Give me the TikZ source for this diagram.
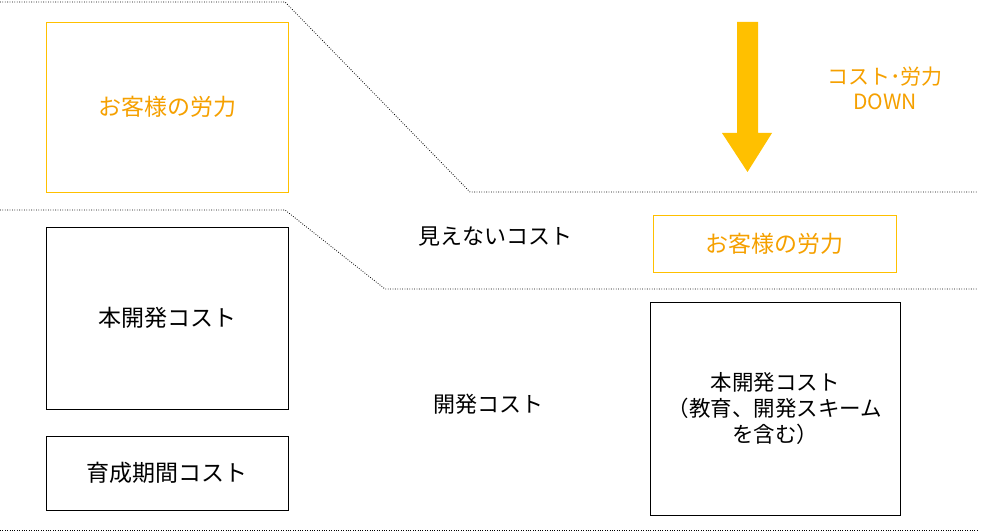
\documentclass[tikz,border=0pt]{standalone}
\usepackage{fontspec}
\setmainfont{Noto Sans CJK JP}
\usetikzlibrary{positioning}
\definecolor{gold}{HTML}{FFC000}
\definecolor{orangetext}{HTML}{F5A000}
\tikzset{
  costbox/.style={draw,thin,align=center,font=\fontsize{23}{27}\selectfont},
  careline/.style={line width=0.8pt,dash pattern=on 0.8pt off 1.6pt},
}
\begin{document}
\begin{tikzpicture}
  [x=1pt,y=-1pt,every node/.style={inner sep=0pt}]
  \useasboundingbox (0,0) rectangle (983,532);
  % dotted levels
  \draw[careline] (0,2) -- (285,2) -- (470,192) -- (978,192);
  \draw[careline] (0,210) -- (285,210) -- (385,289) -- (978,289);
  \draw[careline] (0,530) -- (978,530);
  % before
  \node[costbox,draw=gold,text=orangetext,minimum width=242pt,minimum height=170pt] (care1) at (167,107) {お客様の労力};
  \node[costbox,minimum width=242pt,minimum height=182pt] (dev1) at (167,318) {本開発コスト};
  \node[costbox,minimum width=242pt,minimum height=74pt] (train) at (167,473) {育成期間コスト};
  % labels
  \node[font=\fontsize{22}{26}\selectfont] (hidden) at (495,237) {見えないコスト};
  \node[font=\fontsize{22}{26}\selectfont] (devcost) at (488,404) {開発コスト};
  % after
  \node[costbox,draw=gold,text=orangetext,minimum width=243pt,minimum height=57pt] (care2) at (774.5,243.5) {お客様の労力};
  \node[costbox,minimum width=250pt,minimum height=213pt,font=\fontsize{21.5}{26}\selectfont] (dev2) at (775,408.5) {本開発コスト\\（教育、開発スキーム\\を含む）};
  % arrow
  \fill[gold] (737,22) -- (758,22) -- (758,133) -- (772,133) -- (747.5,172) -- (722,133) -- (737,133) -- cycle;
  \node[align=center,text=orangetext,font=\fontsize{21}{25}\selectfont] (down) at (885,88) {コスト･労力\\DOWN};
\end{tikzpicture}
\end{document}
